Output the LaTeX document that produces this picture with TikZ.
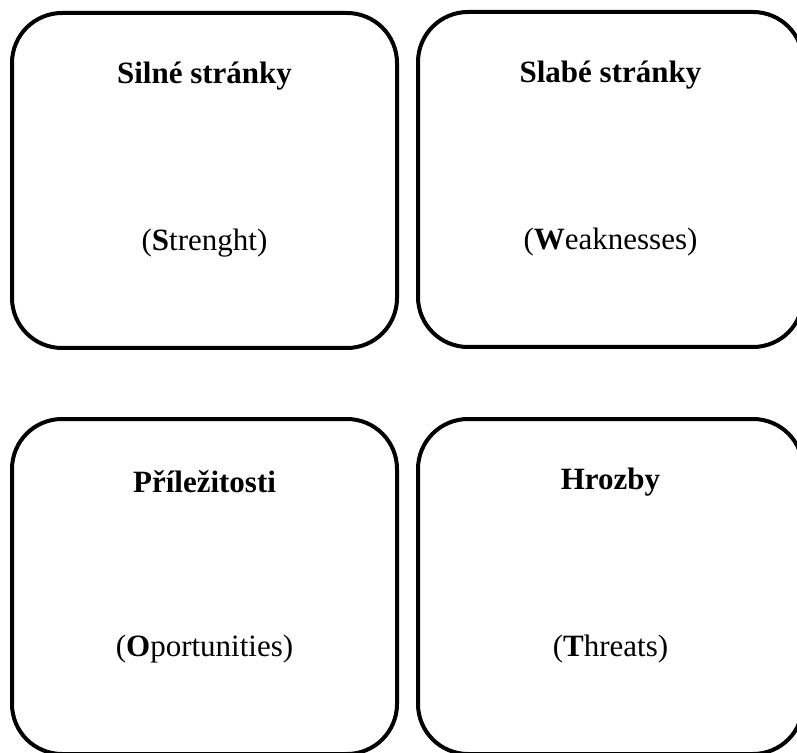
\documentclass[tikz,border=0pt]{standalone}
\usepackage{fontspec}
\setmainfont{Liberation Serif}
\usetikzlibrary{positioning}

\begin{document}
\begin{tikzpicture}[
    x=0.5pt, y=-0.5pt,
    line width=2pt,
    quad/.style={
        draw,
        rounded corners=25pt,
        minimum width=192.5pt,
        minimum height=167.5pt,
        inner sep=0pt
    },
    heading/.style={
        font=\fontsize{15.5}{18}\selectfont\bfseries,
        inner sep=1pt
    },
    sub/.style={
        font=\fontsize{15.5}{18}\selectfont,
        inner sep=1pt
    }
]
\useasboundingbox (0,0) rectangle (797,753);

\node[quad] (strength) at (204.5,180.5) {};
\node[quad] (weakness) at (610.5,179.5) {};
\node[quad] (opport) at (204.5,586.5) {};
\node[quad] (threat) at (610.5,586.5) {};

\node[heading] (strengthtitle) at ([yshift=-32.5pt]strength.north) {Silné stránky};
\node[sub] (strengthsub) at ([yshift=-116pt]strength.north) {(\textbf{S}trenght)};

\node[heading] (weaknesstitle) at ([yshift=-32.5pt]weakness.north) {Slabé stránky};
\node[sub] (weaknesssub) at ([yshift=-116pt]weakness.north) {(\textbf{W}eaknesses)};

\node[heading] (opporttitle) at ([yshift=-32.5pt]opport.north) {Příležitosti};
\node[sub] (opportsub) at ([yshift=-116pt]opport.north) {(\textbf{O}portunities)};

\node[heading] (threattitle) at ([yshift=-32.5pt]threat.north) {Hrozby};
\node[sub] (threatsub) at ([yshift=-116pt]threat.north) {(\textbf{T}hreats)};

\end{tikzpicture}
\end{document}
